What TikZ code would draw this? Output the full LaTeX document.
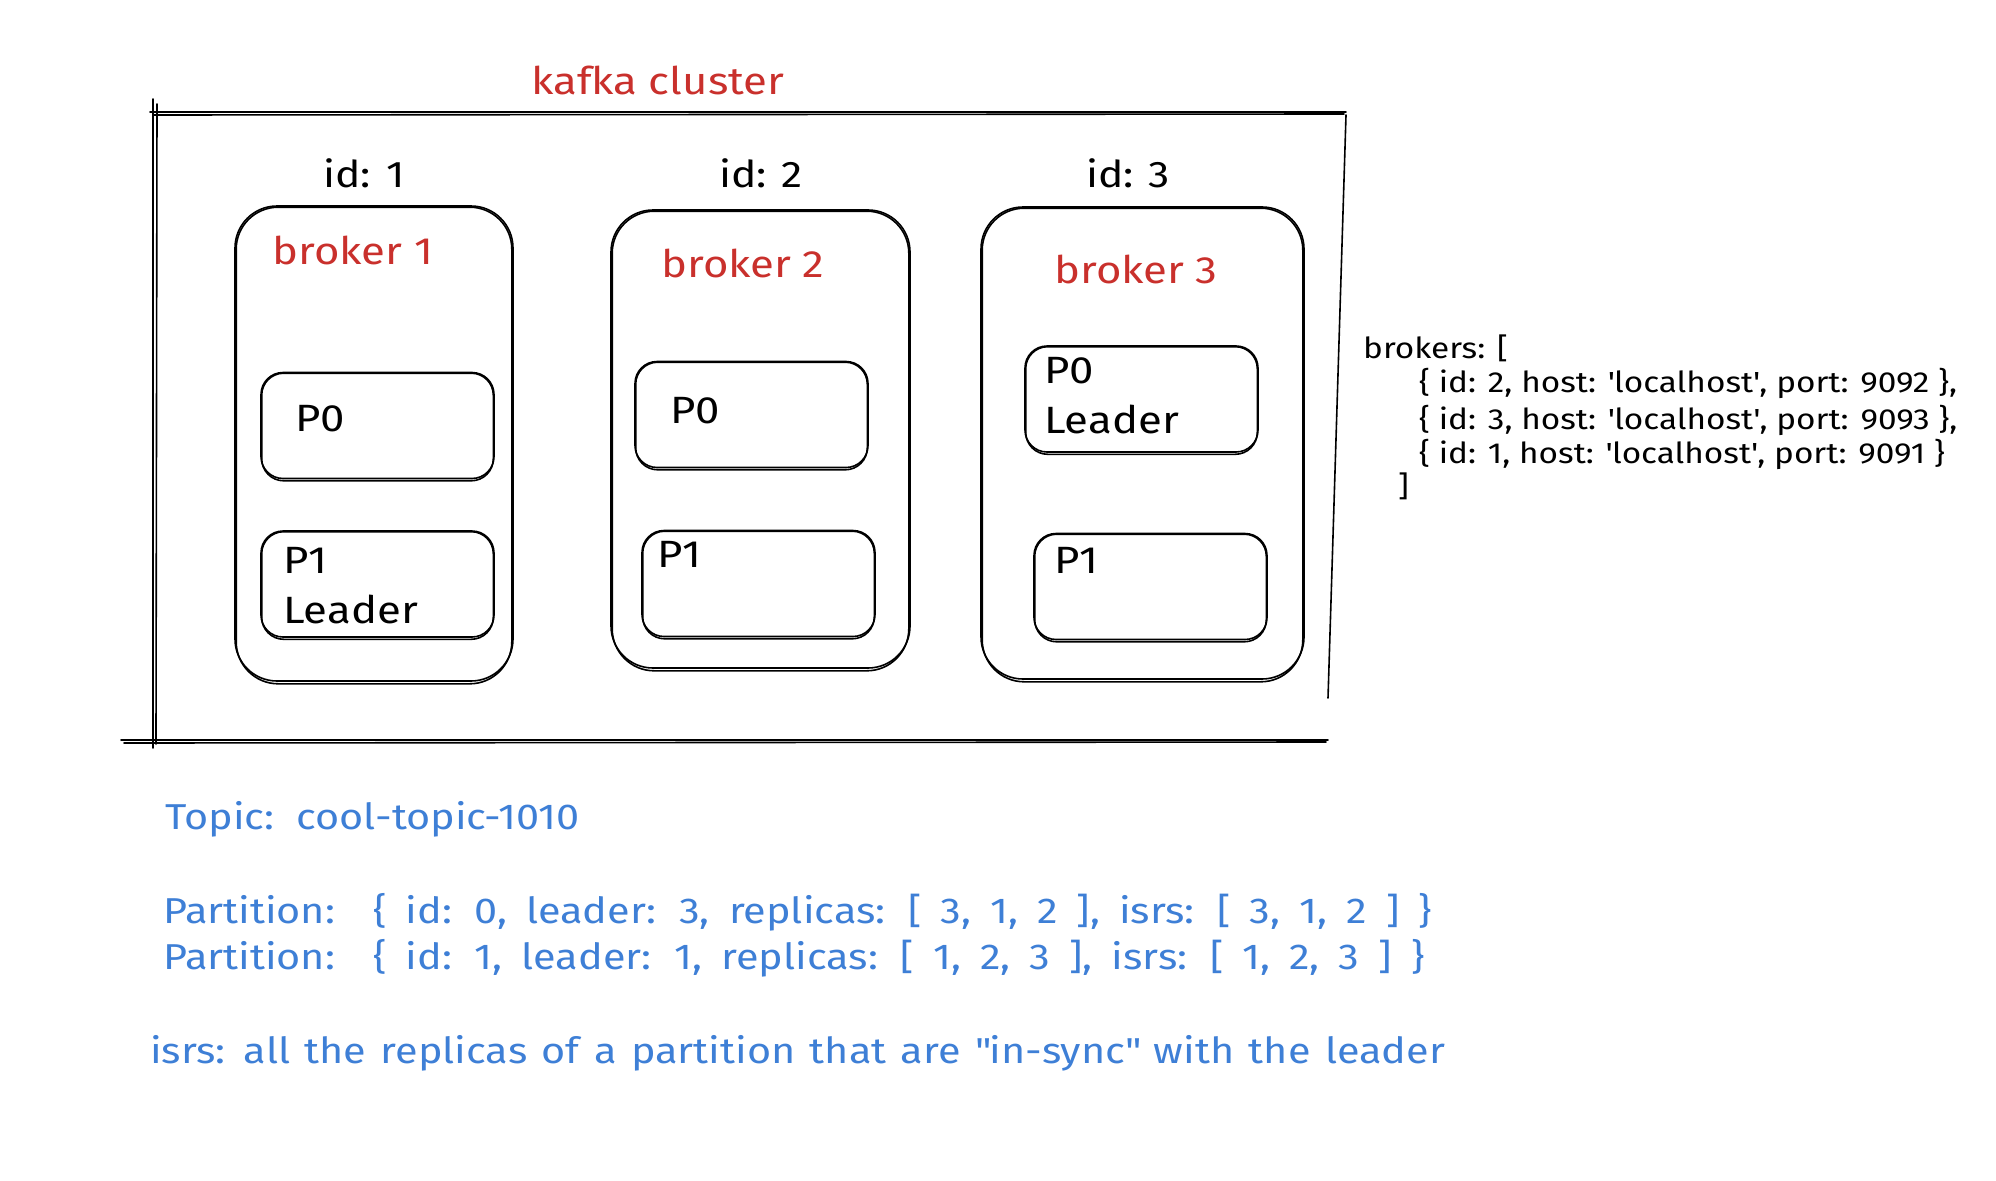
\documentclass[tikz,border=0pt]{standalone}
\usepackage{fontspec}
\setmainfont{Fira Sans}[FakeStretch=1.15]
\definecolor{sketchred}{RGB}{201,48,44}
\definecolor{sketchblue}{RGB}{62,127,214}
\newcommand{\widespaces}[1]{\spaceskip=#1\relax}
\newcommand{\sq}{\textquotesingle}

\tikzset{
  pen/.style={line width=1.6pt, line cap=round},
  brokerbox/.style={pen, draw, rounded corners=42pt, inner sep=0pt},
  partbox/.style={pen, draw, rounded corners=22pt, inner sep=0pt, minimum width=233pt, minimum height=106pt},
  lbl/.style={anchor=west, inner sep=0pt, text depth=0pt},
  blacklbl/.style={lbl, text height=26pt, font=\fontsize{38}{44}\selectfont},
  redlbl/.style={anchor=center, inner sep=0pt, text=sketchred, font=\fontsize{38}{44}\selectfont},
  bluelbl/.style={lbl, text height=25pt, text=sketchblue, font=\fontsize{36}{42}\selectfont},
  codelbl/.style={lbl, text height=20pt, font=\fontsize{29}{33}\selectfont},
}

\begin{document}
\begin{tikzpicture}[x=1pt,y=-1pt]
  \useasboundingbox (0,0) rectangle (1996,1180);

  % cluster frame, sketched with doubled strokes
  \draw[pen] (150,112) -- (1346,112);
  \draw[pen] (153,115) -- (1344,114);
  \draw[pen] (153,99) -- (153,748);
  \draw[pen] (157,104) -- (156,744);
  \draw[pen] (1346,115) -- (1328,698);
  \draw[pen] (121,740) -- (1328,740);
  \draw[pen] (124,743) -- (1326,742);
  \node[redlbl] (cluster) at (658,80) {kafka cluster};

  % brokers
  \node[brokerbox, minimum width=278pt, minimum height=475pt] (b1) at (374,443.5) {};
  \node[brokerbox, minimum width=299pt, minimum height=458pt] (b2) at (760.5,439) {};
  \node[brokerbox, minimum width=323pt, minimum height=472pt] (b3) at (1142.5,443) {};
  \foreach \n in {b1,b2,b3}{
    \draw[pen, rounded corners=42pt] ([shift={(2,2)}]\n.south west) rectangle ([shift={(-2,2)}]\n.north east);
  }

  \node[anchor=center, font=\fontsize{37}{44}\selectfont] (id1) at (364,173) {id: 1};
  \node[anchor=center, font=\fontsize{37}{44}\selectfont] (id2) at (761,173) {id: 2};
  \node[anchor=center, font=\fontsize{37}{44}\selectfont] (id3) at (1128,173) {id: 3};

  \node[redlbl] (name1) at (353,250) {broker 1};
  \node[redlbl] (name2) at (743,263) {broker 2};
  \node[redlbl] (name3) at (1136,269) {broker 3};

  % partitions
  \node[partbox] (b1p0) at (377.5,425.5) {};
  \node[partbox] (b1p1) at (377.5,584) {};
  \node[partbox] (b2p0) at (751.5,414.5) {};
  \node[partbox] (b2p1) at (758.5,583.5) {};
  \node[partbox] (b3p0) at (1141.5,399) {};
  \node[partbox] (b3p1) at (1150.5,586.5) {};
  \foreach \n in {b1p0,b1p1,b2p0,b2p1,b3p0,b3p1}{
    \draw[pen, rounded corners=22pt] ([shift={(1.5,1.5)}]\n.south west) rectangle ([shift={(-1.5,1.5)}]\n.north east);
  }

  \node[blacklbl] (t1p0) at (295,418) {P0};
  \node[blacklbl] (t1p1) at (283,560) {P1};
  \node[blacklbl] (t1ld) at (283,610) {Leader};
  \node[blacklbl] (t2p0) at (670,410) {P0};
  \node[blacklbl] (t2p1) at (657,554) {P1};
  \node[blacklbl] (t3p0) at (1044,370) {P0};
  \node[blacklbl] (t3ld) at (1044,420) {Leader};
  \node[blacklbl] (t3p1) at (1054,560) {P1};

  % broker list
  \node[codelbl] (code0) at (1363,348) {brokers: [};
  \node[codelbl] (code1) at (1419,382) {\{ id: 2, host: \sq localhost\sq, port: 9092 \},};
  \node[codelbl] (code2) at (1419,419) {\{ id: 3, host: \sq localhost\sq, port: 9093 \},};
  \node[codelbl] (code3) at (1419,453) {\{ id: 1, host: \sq localhost\sq, port: 9091 \}};
  \node[codelbl] (code4) at (1398,486) {]};

  % topic notes
  \node[bluelbl] (topic) at (165,817) {Topic:\ \ cool-topic-1010};
  \node[bluelbl] (part0) at (163,911) {\widespaces{0.53em}Partition:\ \ \{ id: 0, leader: 3, replicas: [ 3, 1, 2 ], isrs: [ 3, 1, 2 ] \}};
  \node[bluelbl] (part1) at (163,957) {\widespaces{0.53em}Partition:\ \ \{ id: 1, leader: 1, replicas: [ 1, 2, 3 ], isrs: [ 1, 2, 3 ] \}};
  \node[bluelbl] (isrs) at (150,1051) {\widespaces{0.4em}isrs: all the replicas of a partition that are \textquotedbl in-sync\textquotedbl{} with the leader};
\end{tikzpicture}
\end{document}
